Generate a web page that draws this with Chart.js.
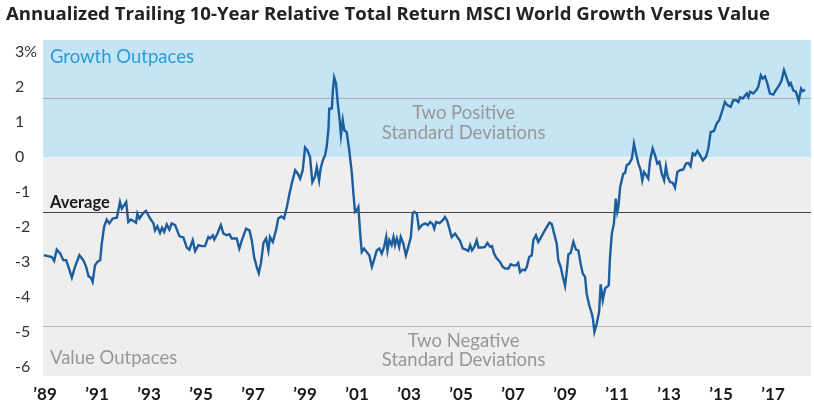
<!DOCTYPE html>
<html><head><meta charset="utf-8">
<script src="https://cdn.jsdelivr.net/npm/chart.js@4.4.1/dist/chart.umd.min.js"></script>
<style>html,body{margin:0;padding:0;background:#fff;} canvas{display:block}</style>
</head><body>
<canvas id="c" width="814" height="408"></canvas>
<script>
const titleText = "Annualized Trailing 10-Year Relative Total Return MSCI World Growth Versus Value";
const growthLabel = "Growth Outpaces";
const valueLabel = "Value Outpaces";
const positiveLabel = ["Two Positive", "Standard Deviations"];
const negativeLabel = ["Two Negative", "Standard Deviations"];
const averageLabel = "Average";

const averageLevel = -1.56;
const plusTwoSd = 1.68;
const minusTwoSd = -4.81;

const tickYears = [1989,1991,1993,1995,1997,1999,2001,2003,2005,2007,2009,2011,2013,2015,2017];
const yTicks = [-6,-5,-4,-3,-2,-1,0,1,2,3];

const years = [
1988.95,1989.07,1989.26,1989.35,1989.45,1989.58,1989.70,1989.81,1989.90,1990.03,
1990.15,1990.32,1990.47,1990.58,1990.67,1990.76,1990.83,1990.92,1991.01,1991.12,
1991.18,1991.27,1991.37,1991.47,1991.60,1991.76,1991.83,1991.88,1991.95,1992.04,
1992.12,1992.20,1992.30,1992.40,1992.50,1992.55,1992.63,1992.76,1992.88,1993.04,
1993.17,1993.23,1993.32,1993.42,1993.50,1993.58,1993.68,1993.78,1993.87,1994.00,
1994.17,1994.32,1994.45,1994.55,1994.68,1994.77,1994.90,1995.03,1995.15,1995.28,
1995.35,1995.45,1995.51,1995.63,1995.76,1995.86,1995.99,1996.09,1996.18,1996.37,
1996.47,1996.57,1996.73,1996.86,1996.95,1997.04,1997.14,1997.22,1997.30,1997.40,
1997.50,1997.59,1997.65,1997.76,1997.88,1997.97,1998.08,1998.19,1998.30,1998.40,
1998.49,1998.62,1998.72,1998.81,1998.91,1999.00,1999.09,1999.19,1999.28,1999.38,
1999.45,1999.54,1999.60,1999.68,1999.77,1999.83,1999.90,1999.93,2000.03,2000.07,
2000.12,2000.19,2000.26,2000.32,2000.38,2000.45,2000.51,2000.60,2000.70,2000.80,
2000.86,2000.92,2000.99,2001.05,2001.12,2001.18,2001.27,2001.37,2001.47,2001.57,
2001.65,2001.76,2001.86,2001.95,2002.04,2002.12,2002.17,2002.24,2002.33,2002.40,
2002.46,2002.53,2002.62,2002.68,2002.78,2002.88,2002.97,2003.07,2003.14,2003.20,
2003.30,2003.38,2003.49,2003.62,2003.72,2003.81,2003.91,2003.97,2004.04,2004.17,
2004.30,2004.38,2004.47,2004.55,2004.64,2004.77,2004.86,2004.96,2005.07,2005.19,
2005.28,2005.35,2005.42,2005.51,2005.60,2005.67,2005.80,2005.92,2006.01,2006.12,
2006.19,2006.27,2006.37,2006.50,2006.60,2006.69,2006.82,2006.91,2007.01,2007.12,
2007.20,2007.27,2007.37,2007.46,2007.53,2007.62,2007.72,2007.78,2007.88,2007.97,
2008.08,2008.19,2008.30,2008.40,2008.49,2008.58,2008.68,2008.74,2008.83,2008.91,
2009.00,2009.07,2009.13,2009.22,2009.32,2009.42,2009.51,2009.60,2009.68,2009.77,
2009.83,2009.93,2010.03,2010.07,2010.13,2010.22,2010.31,2010.37,2010.45,2010.54,
2010.60,2010.68,2010.73,2010.80,2010.88,2010.95,2011.01,2011.05,2011.12,2011.18,
2011.24,2011.31,2011.37,2011.47,2011.57,2011.65,2011.73,2011.82,2011.91,2011.97,
2012.04,2012.12,2012.20,2012.27,2012.37,2012.46,2012.55,2012.63,2012.72,2012.81,
2012.88,2012.95,2013.04,2013.14,2013.23,2013.32,2013.42,2013.55,2013.65,2013.74,
2013.83,2013.91,2014.00,2014.09,2014.19,2014.30,2014.42,2014.51,2014.60,2014.73,
2014.83,2014.93,2015.03,2015.15,2015.24,2015.37,2015.47,2015.58,2015.67,2015.73,
2015.83,2015.90,2015.99,2016.05,2016.12,2016.24,2016.35,2016.43,2016.53,2016.60,
2016.69,2016.78,2016.88,2017.01,2017.12,2017.24,2017.33,2017.42,2017.53,2017.62,
2017.68,2017.78,2017.88,2017.99,2018.04,2018.08,2018.14,2018.23
];

const relativeReturn = [
-2.80,-2.82,-2.85,-2.96,-2.64,-2.75,-2.94,-2.94,-3.13,-3.44,
-3.13,-2.80,-2.94,-3.13,-3.40,-3.44,-3.56,-3.09,-2.99,-2.94,
-2.47,-1.99,-1.78,-1.89,-1.75,-1.73,-1.47,-1.28,-1.47,-1.37,
-1.28,-1.85,-1.78,-1.82,-1.87,-1.61,-1.75,-1.61,-1.53,-1.75,
-1.89,-2.09,-1.97,-2.16,-2.01,-2.13,-1.92,-2.07,-1.89,-1.94,
-2.26,-2.29,-2.58,-2.64,-2.37,-2.68,-2.51,-2.54,-2.54,-2.28,
-2.32,-2.23,-2.35,-2.18,-1.94,-2.18,-2.23,-2.20,-2.32,-2.32,
-2.61,-2.37,-2.04,-2.09,-2.37,-2.85,-3.13,-3.31,-3.04,-2.45,
-2.32,-2.66,-2.28,-2.42,-2.09,-1.75,-1.69,-1.75,-1.42,-1.04,
-0.75,-0.37,-0.47,-0.61,-0.37,0.28,0.20,0.01,-0.71,-0.56,
-0.28,-0.66,-0.32,-0.09,0.06,0.29,0.82,1.39,1.39,1.91,
2.28,2.11,1.53,1.15,0.63,1.06,0.77,0.72,0.20,-0.47,
-1.04,-1.56,-1.51,-1.42,-2.18,-2.71,-2.61,-2.71,-2.80,-3.13,
-2.94,-2.66,-2.61,-2.75,-2.56,-2.28,-2.66,-2.37,-2.51,-2.28,
-2.51,-2.32,-2.56,-2.28,-2.47,-2.80,-2.56,-2.28,-1.61,-1.56,
-1.61,-2.04,-1.94,-1.89,-1.94,-1.85,-1.91,-2.04,-1.85,-1.88,
-1.80,-1.71,-1.82,-2.04,-2.28,-2.18,-2.28,-2.39,-2.61,-2.64,
-2.68,-2.51,-2.66,-2.56,-2.37,-2.58,-2.58,-2.56,-2.45,-2.56,
-2.54,-2.75,-2.89,-2.99,-3.13,-3.18,-3.18,-3.06,-3.09,-3.09,
-3.02,-3.28,-3.21,-3.23,-3.13,-2.85,-2.80,-2.37,-2.23,-2.42,
-2.28,-2.13,-1.99,-1.87,-1.91,-2.18,-2.47,-2.94,-3.13,-3.40,
-3.67,-3.23,-2.77,-2.73,-2.42,-2.64,-2.66,-3.04,-3.32,-3.42,
-3.89,-4.23,-4.47,-4.61,-4.99,-4.75,-4.42,-3.63,-4.09,-3.75,
-3.71,-3.66,-2.85,-2.18,-1.89,-1.18,-1.56,-1.42,-0.85,-0.66,
-0.47,-0.45,-0.23,-0.18,-0.04,0.39,0.11,-0.18,-0.37,-0.66,
-0.42,-0.51,-0.61,-0.09,0.25,0.06,-0.18,-0.13,-0.47,-0.66,
-0.26,-0.56,-0.71,-0.73,-0.87,-0.42,-0.37,-0.35,-0.18,-0.16,
-0.26,0.11,0.06,0.18,0.06,-0.09,0.01,0.25,0.72,0.75,
0.96,1.06,1.29,1.58,1.49,1.44,1.63,1.63,1.58,1.71,
1.68,1.74,1.82,1.72,1.87,1.82,1.91,2.01,2.34,2.25,
2.31,2.11,1.82,1.79,1.93,2.06,2.20,2.49,2.25,2.06,
2.12,1.91,1.87,1.61,1.82,1.96,1.89,1.93
];

const bandsPlugin = {
  id: 'bands',
  beforeDatasetsDraw(chart) {
    const { ctx, chartArea: a, scales: { x, y } } = chart;
    const y0 = y.getPixelForValue(0);
    ctx.save();
    ctx.fillStyle = '#c6e5f4';
    ctx.fillRect(a.left, a.top, a.right - a.left, y0 - a.top);
    ctx.fillStyle = '#eeeeee';
    ctx.fillRect(a.left, y0, a.right - a.left, a.bottom - y0);

    const hline = (v, color) => {
      const p = Math.round(y.getPixelForValue(v)) + 0.5;
      ctx.strokeStyle = color; ctx.lineWidth = 1;
      ctx.beginPath(); ctx.moveTo(a.left, p); ctx.lineTo(a.right, p); ctx.stroke();
      return p;
    };
    const pPos = hline(plusTwoSd, '#a8aeb2');
    const pNeg = hline(minusTwoSd, '#b4b4b4');
    const pAvg = hline(averageLevel, '#444444');

    ctx.textBaseline = 'middle';
    ctx.textAlign = 'left';
    ctx.font = '18.5px Lato';
    ctx.fillStyle = '#2a9bd6';
    ctx.fillText(growthLabel, a.left + 7, a.top + 17);
    ctx.fillStyle = '#979797';
    ctx.fillText(valueLabel, a.left + 7, a.bottom - 18);

    const cx = x.getPixelForValue(2005.1);
    ctx.textAlign = 'center';
    ctx.fillText(positiveLabel[0], cx, pPos + 15);
    ctx.fillText(positiveLabel[1], cx, pPos + 35);
    ctx.fillText(negativeLabel[0], cx, pNeg + 15);
    ctx.fillText(negativeLabel[1], cx, pNeg + 34);

    ctx.textAlign = 'left';
    ctx.font = 'bold 16.5px Lato';
    ctx.fillStyle = '#1a1a1a';
    ctx.fillText(averageLabel, a.left + 7, pAvg - 10);
    ctx.restore();
  },
  afterDraw(chart) {
    const { ctx } = chart;
    ctx.save();
    ctx.font = 'bold 18.6px "Open Sans"';
    ctx.fillStyle = '#222222';
    ctx.textBaseline = 'middle';
    ctx.textAlign = 'left';
    ctx.fillText(titleText, 6, 15);
    ctx.restore();
  }
};

new Chart(document.getElementById('c'), {
  type: 'line',
  data: {
    datasets: [{
      data: years.map((yr, i) => ({ x: yr, y: relativeReturn[i] })),
      borderColor: '#1c5d9d',
      borderWidth: 2.4,
      pointRadius: 0,
      tension: 0,
      fill: false
    }]
  },
  options: {
    responsive: false,
    animation: false,
    devicePixelRatio: 1,
    layout: { padding: { left: 15, right: 3, top: 40, bottom: 0 } },
    plugins: { legend: { display: false }, tooltip: { enabled: false }, title: { display: false } },
    scales: {
      x: {
        type: 'linear', min: 1988.92, max: 2018.46,
        grid: { display: false, drawTicks: false }, border: { display: false },
        afterBuildTicks: s => { s.ticks = tickYears.map(v => ({ value: v })); },
        afterFit: s => { s.height = 32; },
        ticks: {
          autoSkip: false, maxRotation: 0, padding: 8, color: '#1a1a1a',
          font: { family: 'Lato', size: 17, weight: 'bold' },
          callback: v => '\u2019' + String(v).slice(2)
        }
      },
      y: {
        min: -6.25, max: 3.35,
        grid: { display: false, drawTicks: false }, border: { display: false },
        afterBuildTicks: s => { s.ticks = yTicks.map(v => ({ value: v })); },
        afterFit: s => { s.width = 28; },
        ticks: {
          crossAlign: 'far', color: '#333333',
          font: { family: 'Lato', size: 16 },
          callback: v => (v === 3 ? '3%' : String(v))
        }
      }
    }
  },
  plugins: [bandsPlugin]
});
</script>
</body></html>
